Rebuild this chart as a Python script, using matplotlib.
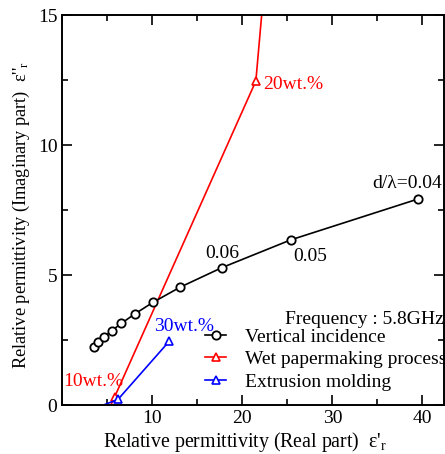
import matplotlib
matplotlib.use("Agg")
import matplotlib.pyplot as plt
from matplotlib.ticker import MultipleLocator

plt.rcParams['font.family'] = ['Liberation Serif', 'DejaVu Serif']
plt.rcParams['mathtext.fontset'] = 'custom'
plt.rcParams['mathtext.rm'] = 'Liberation Serif'
plt.rcParams['mathtext.it'] = 'Liberation Serif:italic'

# Vertical incidence
vi_real = [3.5, 4.0, 4.67, 5.49, 6.56, 8.04, 10.08, 13.08, 17.71, 25.37, 39.49]
vi_imag = [2.22, 2.41, 2.62, 2.86, 3.14, 3.50, 3.95, 4.53, 5.28, 6.35, 7.92]
# Wet papermaking process (line points; markers on measured points)
wet_real = [5.4, 5.8, 21.5, 22.4]
wet_imag = [0.0, 0.3, 12.46, 16.0]
wet_marked = [1, 2]
# Extrusion molding
ext_real = [4.6, 6.2, 11.9]
ext_imag = [0.0, 0.22, 2.46]
ext_marked = [1, 2]

fig = plt.figure(figsize=(4.45, 4.54), dpi=100)
ax = fig.add_axes([62.3/445, 1-405/454, (444-62.3)/445, (405-15)/454])

lw = 1.2
ax.plot(vi_real, vi_imag, '-o', color='black', lw=lw, ms=6, mfc='white', mec='black', mew=1.3,
        label='Vertical incidence', zorder=3)
ax.plot(wet_real, wet_imag, '-^', color='red', lw=lw, ms=5.5, mfc='white', mec='red', mew=1.2,
        markevery=wet_marked, label='Wet papermaking process', zorder=2)
ax.plot(ext_real, ext_imag, '-^', color='blue', lw=lw, ms=5.5, mfc='white', mec='blue', mew=1.2,
        markevery=ext_marked, label='Extrusion molding', zorder=2)

ax.set_xlim(0, 42.4)
ax.set_ylim(0, 15)
ax.xaxis.set_major_locator(MultipleLocator(10))
ax.xaxis.set_minor_locator(MultipleLocator(5))
ax.yaxis.set_major_locator(MultipleLocator(5))
ax.yaxis.set_minor_locator(MultipleLocator(2.5))
ax.tick_params(which='both', direction='in', top=True, right=True, labelsize=14, width=1.2)
ax.tick_params(which='major', length=7)
ax.tick_params(which='minor', length=4)
ax.set_xticks([10, 20, 30, 40])
for s in ax.spines.values():
    s.set_linewidth(1.4)

ax.set_xlabel(r"Relative permittivity (Real part)  ε'$_\mathrm{r}$", fontsize=14.3)
ax.xaxis.set_label_coords(0.48, -0.064)
ax.set_ylabel(r"Relative permittivity (Imaginary part)  ε''$_\mathrm{r}$", fontsize=13.2)
ax.yaxis.set_label_coords(-0.08, 0.486)

fs = 14
ax.text(22.27, 12.31, '20wt.%', color='red', fontsize=fs, ha='left', va='center')
ax.text(0.08, 0.9, '10wt.%', color='red', fontsize=fs, ha='left', va='center')
ax.text(10.19, 3.01, '30wt.%', color='blue', fontsize=fs, ha='left', va='center')
ax.text(34.4, 8.5, 'd/λ=0.04', color='black', fontsize=fs, ha='left', va='center')
ax.text(15.86, 5.81, '0.06', color='black', fontsize=fs, ha='left', va='center')
ax.text(25.63, 5.73, '0.05', color='black', fontsize=fs, ha='left', va='center')

ax.text(1.0, (405-319)/390, 'Frequency : 5.8GHz', fontsize=fs, ha='right', va='center',
        transform=ax.transAxes)
leg = ax.legend(loc='upper left', bbox_to_anchor=((205-62.3)/382, (405-328)/390), frameon=False,
                fontsize=fs, handlelength=1.1, handletextpad=0.95, labelspacing=0.25,
                borderpad=0, borderaxespad=0)

fig.savefig('out.png', dpi=100)
